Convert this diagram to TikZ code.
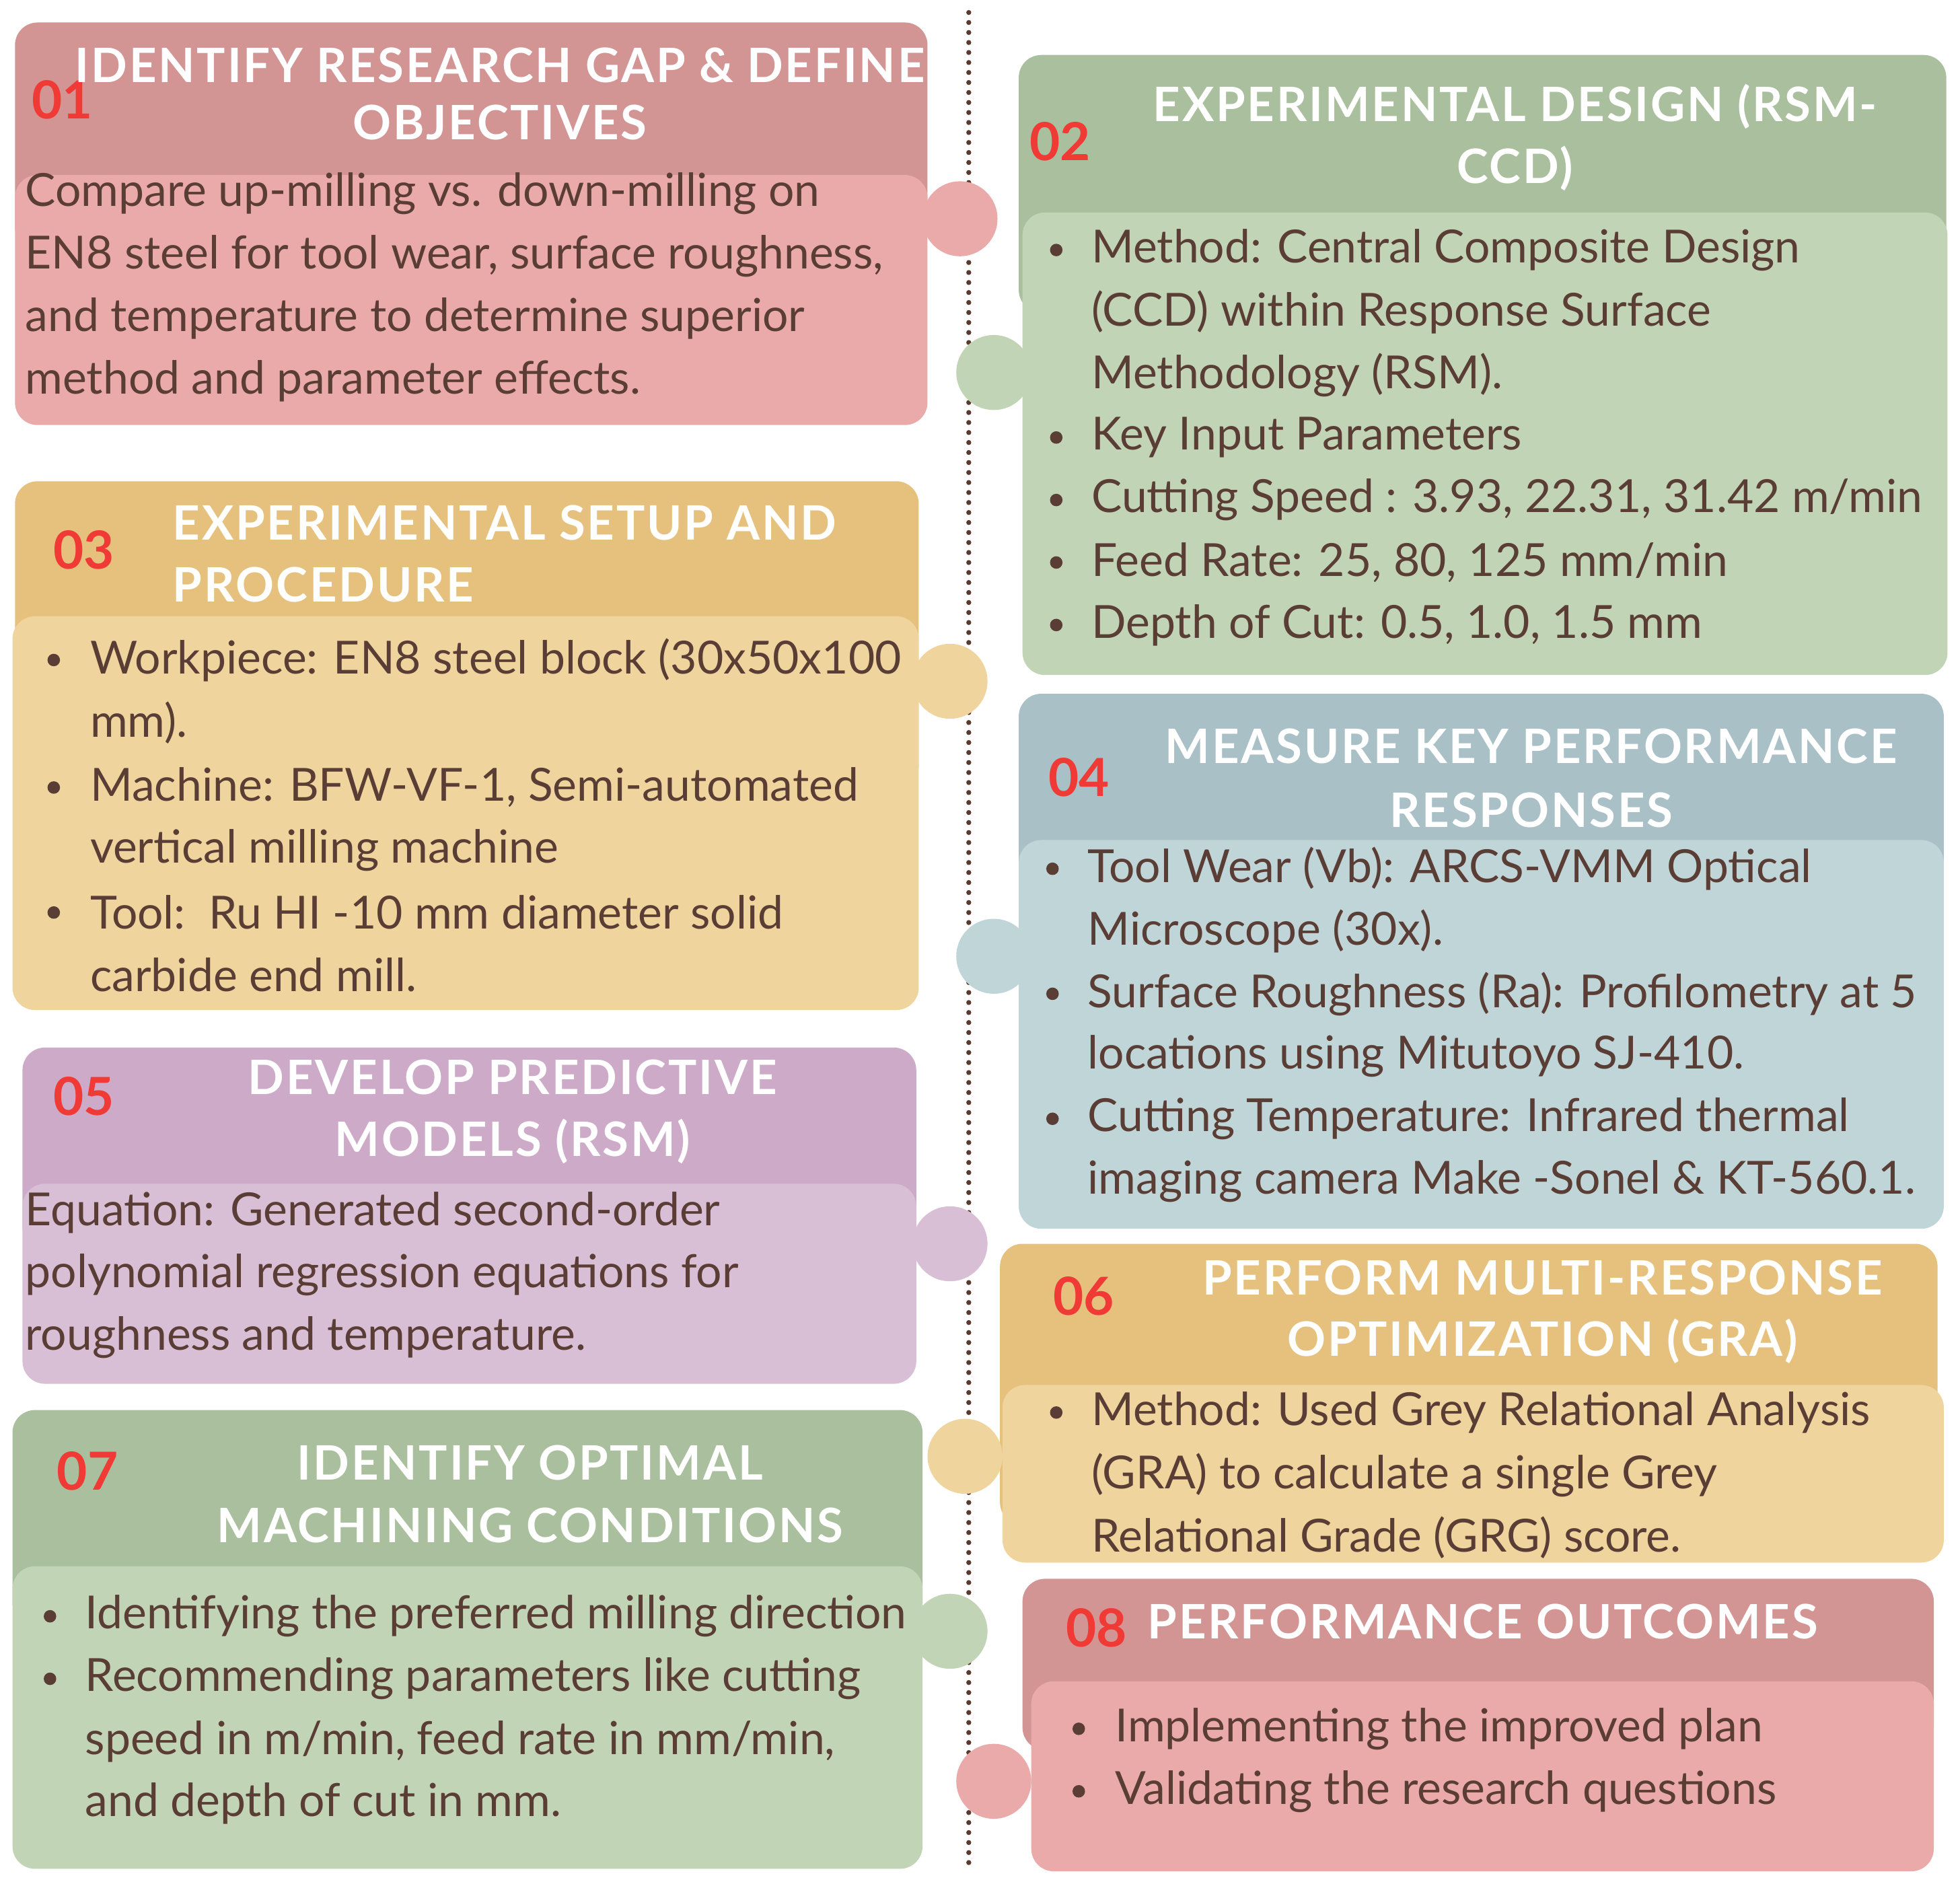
\documentclass[tikz,border=0pt]{standalone}
\usepackage{fontspec}
\setmainfont{Lato}
\newfontfamily\hdfont{Lato}[LetterSpace=4]
\definecolor{rH}{HTML}{D39494}\definecolor{rB}{HTML}{EBAAAA}
\definecolor{gH}{HTML}{A9BF9D}\definecolor{gB}{HTML}{C2D4B6}
\definecolor{yH}{HTML}{E6C17E}\definecolor{yB}{HTML}{F0D49E}
\definecolor{bH}{HTML}{A9C0C6}\definecolor{bB}{HTML}{C0D5D8}
\definecolor{pH}{HTML}{CDABC8}\definecolor{pB}{HTML}{D8BFD6}
\definecolor{txt}{HTML}{5A3E36}\definecolor{num}{HTML}{F03A36}
\definecolor{dot}{HTML}{5A3A2E}
\begin{document}
\begin{tikzpicture}[x=1pt,y=-1pt,
 box/.style={rounded corners=18pt},
 hd/.style={text=white,font=\hdfont\fontsize{38}{44}\selectfont\bfseries,inner sep=0},
 nm/.style={text=num,font=\fontsize{42}{48}\selectfont\bfseries,inner sep=0},
 bd/.style={text=txt,font=\fontsize{36.5}{42}\selectfont,anchor=west,inner sep=0},
 bu/.style={circle,fill=txt,inner sep=0,minimum size=10pt}]
\useasboundingbox[fill=white] (0,0) rectangle (1568,1507);
\draw[dot,line width=4pt,dash pattern=on 0pt off 8pt,line cap=round] (775,10) -- (775,1495);
% boxes
\fill[rH,box] (12,18) rectangle (742,200);
\fill[rB,box] (12,140) rectangle (742,340);
\fill[rB] (768,175) circle (30);
\fill[gH,box] (815,44) rectangle (1557,250);
\fill[gB,box] (818,170) rectangle (1558,540);
\fill[gB] (795,298) circle (30);
\fill[yH,box] (12,385) rectangle (735,630);
\fill[yB,box] (10,493) rectangle (735,808);
\fill[yB] (760,545) circle (30);
\fill[bH,box] (815,555) rectangle (1555,740);
\fill[bB,box] (815,672) rectangle (1555,983);
\fill[bB] (795,765) circle (30);
\fill[pH,box] (18,838) rectangle (733,1000);
\fill[pB,box] (18,947) rectangle (733,1107);
\fill[pB] (760,995) circle (30);
\fill[yH,box] (800,995) rectangle (1550,1220);
\fill[yB,box] (802,1108) rectangle (1555,1250);
\fill[yB] (772,1165) circle (30);
\fill[gH,box] (10,1128) rectangle (738,1300);
\fill[gB,box] (10,1253) rectangle (738,1495);
\fill[gB] (760,1305) circle (30);
\fill[rH,box] (818,1263) rectangle (1547,1400);
\fill[rB,box] (825,1345) rectangle (1547,1497);
\fill[rB] (795,1425) circle (30);
% headers
\node[nm] (n1) at (50,80) {01};
\node[hd] (h1a) at (400,52) {IDENTIFY RESEARCH GAP \& DEFINE};
\node[hd] (h1b) at (400,98) {OBJECTIVES};
\node[nm] (n2) at (848,113) {02};
\node[hd] (h2a) at (1212,85) {EXPERIMENTAL DESIGN (RSM-};
\node[hd] (h2b) at (1212,135) {CCD)};
\node[nm] (n3) at (67,440) {03};
\node[hd,anchor=west] (h3a) at (138,418) {EXPERIMENTAL SETUP AND};
\node[hd,anchor=west] (h3b) at (138,468) {PROCEDURE};
\node[nm] (n4) at (863,622) {04};
\node[hd] (h4a) at (1225,597) {MEASURE KEY PERFORMANCE};
\node[hd] (h4b) at (1225,648) {RESPONSES};
\node[nm] (n5) at (67,877) {05};
\node[hd] (h5a) at (410,862) {DEVELOP PREDICTIVE};
\node[hd] (h5b) at (410,913) {MODELS (RSM)};
\node[nm] (n6) at (867,1037) {06};
\node[hd] (h6a) at (1234,1022) {PERFORM MULTI-RESPONSE};
\node[hd] (h6b) at (1234,1073) {OPTIMIZATION (GRA)};
\node[nm] (n7) at (70,1177) {07};
\node[hd] (h7a) at (424,1170) {IDENTIFY OPTIMAL};
\node[hd] (h7b) at (424,1220) {MACHINING CONDITIONS};
\node[nm] (n8) at (877,1302) {08};
\node[hd,anchor=west] (h8a) at (918,1297) {PERFORMANCE OUTCOMES};
% body 01
\node[bd] (t1a) at (20,155) {Compare up-milling vs. down-milling on};
\node[bd] (t1b) at (20,205) {EN8 steel for tool wear, surface roughness,};
\node[bd] (t1c) at (20,255) {and temperature to determine superior};
\node[bd] (t1d) at (20,305) {method and parameter effects.};
% body 02
\foreach \y/\n in {200/a,350/b,400/c,450/d,500/e}{\node[bu] (u2\n) at (845,\y) {};}
\node[bd] (t2a) at (873,200) {Method: Central Composite Design};
\node[bd] (t2b) at (873,250) {(CCD) within Response Surface};
\node[bd] (t2c) at (873,300) {Methodology (RSM).};
\node[bd] (t2d) at (873,350) {Key Input Parameters};
\node[bd] (t2e) at (873,400) {Cutting Speed : 3.93, 22.31, 31.42 m/min};
\node[bd] (t2f) at (873,450) {Feed Rate: 25, 80, 125 mm/min};
\node[bd] (t2g) at (873,500) {Depth of Cut: 0.5, 1.0, 1.5 mm};
% body 03
\foreach \y/\n in {528/a,630/b,730/c}{\node[bu] (u3\n) at (43,\y) {};}
\node[bd] (t3a) at (72,528) {Workpiece: EN8 steel block (30x50x100};
\node[bd] (t3b) at (72,578) {mm).};
\node[bd] (t3c) at (72,630) {Machine: BFW-VF-1, Semi-automated};
\node[bd] (t3d) at (72,680) {vertical milling machine};
\node[bd] (t3e) at (72,730) {Tool:\ \ Ru HI -10 mm diameter solid};
\node[bd] (t3f) at (72,780) {carbide end mill.};
% body 04
\foreach \y/\n in {695/a,795/b,895/c}{\node[bu] (u4\n) at (842,\y) {};}
\node[bd] (t4a) at (870,695) {Tool Wear (Vb): ARCS-VMM Optical};
\node[bd] (t4b) at (870,745) {Microscope (30x).};
\node[bd] (t4c) at (870,795) {Surface Roughness (Ra): Profilometry at 5};
\node[bd] (t4d) at (870,845) {locations using Mitutoyo SJ-410.};
\node[bd] (t4e) at (870,895) {Cutting Temperature: Infrared thermal};
\node[bd] (t4f) at (870,945) {imaging camera Make -Sonel \& KT-560.1.};
% body 05
\node[bd] (t5a) at (20,970) {Equation: Generated second-order};
\node[bd] (t5b) at (20,1020) {polynomial regression equations for};
\node[bd] (t5c) at (20,1070) {roughness and temperature.};
% body 06
\node[bu] (u6a) at (845,1130) {};
\node[bd] (t6a) at (873,1130) {Method: Used Grey Relational Analysis};
\node[bd] (t6b) at (873,1180) {(GRA) to calculate a single Grey};
\node[bd] (t6c) at (873,1230) {Relational Grade (GRG) score.};
% body 07
\foreach \y/\n in {1293/a,1343/b}{\node[bu] (u7\n) at (40,\y) {};}
\node[bd] (t7a) at (68,1293) {Identifying the preferred milling direction};
\node[bd] (t7b) at (68,1343) {Recommending parameters like cutting};
\node[bd] (t7c) at (68,1393) {speed in m/min, feed rate in mm/min,};
\node[bd] (t7d) at (68,1443) {and depth of cut in mm.};
% body 08
\foreach \y/\n in {1383/a,1433/b}{\node[bu] (u8\n) at (863,\y) {};}
\node[bd] (t8a) at (892,1383) {Implementing the improved plan};
\node[bd] (t8b) at (892,1433) {Validating the research questions};
\end{tikzpicture}
\end{document}
